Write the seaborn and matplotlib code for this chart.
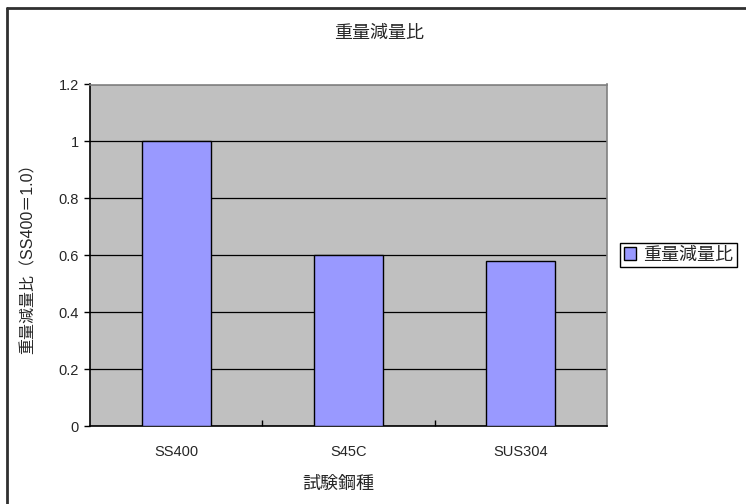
import matplotlib
matplotlib.use("Agg")
import matplotlib.pyplot as plt
import pandas as pd
import seaborn as sns
from matplotlib.lines import Line2D
from matplotlib.patches import Patch
from matplotlib.ticker import FixedLocator, FuncFormatter

# data
steels = ["SS400", "S45C", "SUS304"]
ratios = [1.0, 0.6, 0.58]
series_name = "重量減量比"
y_ticks = [0, 0.2, 0.4, 0.6, 0.8, 1.0, 1.2]

sns.set_style("white")
plt.rcParams['font.family'] = ['Liberation Sans', 'Noto Sans CJK JP']

df = pd.DataFrame({'鋼種': steels, series_name: ratios})

W, H = 746, 504
fig = plt.figure(figsize=(W / 100, H / 100), dpi=100)
ax = fig.add_axes([90 / W, 1 - 426 / H, (607 - 90) / W, (426 - 84.5) / H])
ax.set_facecolor('#C0C0C0')

sns.barplot(data=df, x='鋼種', y=series_name, color='#9999FF', saturation=1,
            width=0.4, edgecolor='black', linewidth=1.0, ax=ax, zorder=3)

ax.set_ylim(0, 1.2)
ax.set_xlim(-0.5, 2.5)
ax.set_yticks(y_ticks)
ax.yaxis.set_major_formatter(FuncFormatter(lambda v, p: f"{v:g}"))
ax.grid(axis='y', color='black', linewidth=0.9, zorder=1)
ax.set_axisbelow(True)

# excel style: category labels without ticks, small inward ticks between groups
ax.tick_params(axis='x', which='major', length=0, pad=14, labelsize=10.5)
ax.xaxis.set_minor_locator(FixedLocator([0.5, 1.5]))
ax.tick_params(axis='x', which='minor', bottom=True, direction='in', length=4,
               width=1, color='black')
ax.tick_params(axis='y', direction='out', length=4, width=1, color='black', left=True,
               labelsize=10.5, pad=4)

for side in ['left', 'bottom']:
    ax.spines[side].set_color('black')
    ax.spines[side].set_linewidth(1.2)
for side in ['top', 'right']:
    ax.spines[side].set_color('#808080')
    ax.spines[side].set_linewidth(1.2)

ax.set_xlabel('試験鋼種', fontsize=13)
ax.xaxis.set_label_coords(0.48, -0.145)
ax.set_ylabel('重量減量比（SS400＝1.0）', fontsize=11.5)
ax.yaxis.set_label_coords(-(90 - 36) / (607 - 90), 0.5)

fig.text(379 / W, 1 - 33 / H, '重量減量比', ha='center', va='center', fontsize=13)

handle = Patch(facecolor='#9999FF', edgecolor='black', linewidth=1)
leg = fig.legend([handle], [series_name], loc='center left',
                 bbox_to_anchor=(620 / W, 1 - 255 / H), fontsize=13,
                 frameon=True, fancybox=False, edgecolor='black', framealpha=1,
                 borderpad=0.2, handlelength=0.7, handleheight=0.7,
                 handletextpad=0.4, borderaxespad=0)
leg.get_frame().set_linewidth(1)

# chart area border (only top and left visible in the crop)
fig.add_artist(Line2D([7 / W, 7 / W], [0, 1 - 8 / H], color='#303030', linewidth=2))
fig.add_artist(Line2D([7 / W, 1], [1 - 8 / H, 1 - 8 / H], color='#303030', linewidth=2))

fig.savefig('out.png', dpi=100)
